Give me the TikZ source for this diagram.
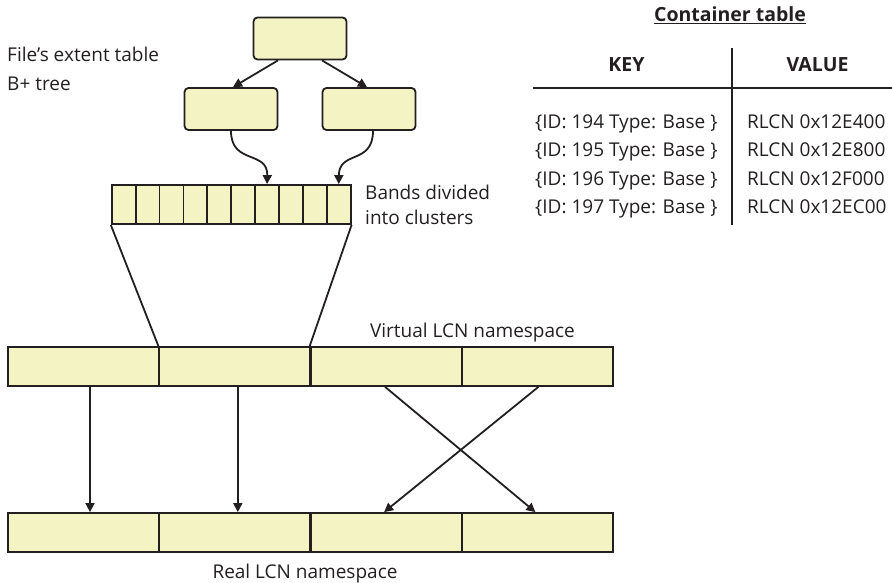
\documentclass[tikz,border=0pt]{standalone}
\usepackage{fontspec}
\setmainfont{Open Sans}
\usetikzlibrary{arrows.meta}
\definecolor{boxfill}{RGB}{244,243,196}
\definecolor{ink}{RGB}{35,31,32}
\tikzset{
  box/.style={draw=ink, fill=boxfill, line width=1.8pt, inner sep=0pt},
  tbox/.style={box, rounded corners=4pt, minimum width=93pt, minimum height=42pt},
  cell/.style={box, minimum width=151pt, minimum height=39pt},
  band/.style={box, minimum width=23.9pt, minimum height=39pt},
  conn/.style={draw=ink, line width=1.8pt},
  arr/.style={conn, -{Triangle[length=9pt,width=9pt]}},
  lbl/.style={text=ink, inner sep=0pt, font=\fontsize{19}{23}\selectfont},
  hdr/.style={text=ink, inner sep=0pt, font=\fontsize{19.5}{23}\selectfont\bfseries},
}
\begin{document}
\begin{tikzpicture}[x=1pt,y=-1pt]
\useasboundingbox (0,0) rectangle (892,583);
% tree
\node[tbox] (root) at (300,38.5) {};
\node[tbox] (lft) at (231,109) {};
\node[tbox] (rgt) at (369,109) {};
\coordinate (rs1) at ([xshift=-22pt]root.south);
\coordinate (rs2) at ([xshift=22pt]root.south);
\draw[arr] (rs1) -- ([xshift=2pt]lft.north);
\draw[arr] (rs2) -- ([xshift=-2pt]rgt.north);
% bands
\foreach \i in {0,...,9} {
  \node[band] (b\i) at ({111.7+11.95+23.9*\i},204.5) {};
}
\draw[arr] (lft.south) .. controls (231,165) and (268,150) .. (b6.north);
\coordinate (rgs) at ([xshift=4pt]rgt.south);
\draw[arr] (rgs) .. controls (373,165) and (339,150) .. (b9.north);
% namespace rows
\foreach \i in {0,...,3} {
  \node[cell] (v\i) at ({8+75.5+151*\i+\i*0.3},366.5) {};
  \node[cell] (r\i) at ({8+75.5+151*\i+\i*0.3},532.5) {};
}
\draw[conn] (b0.south west) -- (v1.north west);
\draw[conn] (b9.south east) -- (v2.north west);
% mapping arrows
\coordinate (a0) at ([xshift=6.5pt]v0.south);
\coordinate (a1) at ([xshift=3pt]v1.south);
\coordinate (a2) at ([xshift=-1pt]v2.south);
\coordinate (a3) at ([xshift=1pt]v3.south);
\draw[arr] (a0) -- (r0.north-|a0);
\draw[arr] (a1) -- (r1.north-|a1);
\draw[arr] (a2) -- ([xshift=-2pt]r3.north);
\draw[arr] (a3) -- ([xshift=-2pt]r2.north);
% labels
\node[lbl, anchor=base west] (ft1) at (7,62) {File’s extent table};
\node[lbl, anchor=base west] (ft2) at (7,91) {B+ tree};
\node[lbl, anchor=base west] (bd1) at (365,200) {Bands divided};
\node[lbl, anchor=base west] (bd2) at (365,225) {into clusters};
\node[lbl, anchor=base] (vl) at (472.5,337) {Virtual LCN namespace};
\node[lbl, anchor=base] (rl) at (305,578) {Real LCN namespace};
% container table
\node[hdr, anchor=base] (ct) at (730,22) {\underline{Container table}};
\node[hdr, anchor=base] (key) at (626.5,72) {KEY};
\node[hdr, anchor=base] (val) at (817.5,72) {VALUE};
\coordinate (hl) at (533,88);
\coordinate (hr) at (892,88);
\coordinate (vt) at (732,48);
\coordinate (vb) at (732,225);
\draw[conn] (hl) -- (hr);
\draw[conn] (vt) -- (vb);
\foreach \n/\y/\v in {194/129/RLCN 0x12E400,195/157/RLCN 0x12E800,196/185.5/RLCN 0x12F000,197/214/RLCN 0x12EC00} {
  \node[lbl, anchor=base west] (k\n) at (535,\y) {\{ID: \n\ Type: Base \}};
  \node[lbl, anchor=base west] (val\n) at (747,\y) {\v};
}
\end{tikzpicture}
\end{document}
